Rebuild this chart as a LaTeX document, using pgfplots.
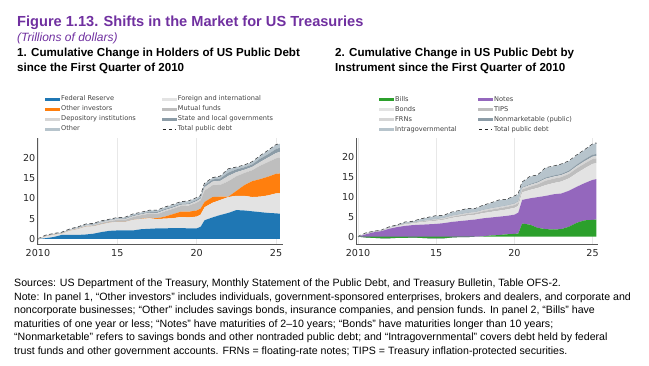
\documentclass[border=0pt]{standalone}
\usepackage{fontspec}
\setmainfont{Liberation Sans}
\newfontfamily\dejavu{DejaVu Sans}
\usepackage{pgfplots}
\usepackage{pgfplotstable}
\pgfplotsset{compat=1.18}

\definecolor{titlepurple}{HTML}{7030A0}
\definecolor{fedblue}{HTML}{1F77B4}
\definecolor{othorange}{HTML}{FF7F0E}
\definecolor{billgreen}{HTML}{2CA02C}
\definecolor{notepurple}{HTML}{9467BD}
\definecolor{lgrey}{HTML}{E3E3E3}
\definecolor{mgrey}{HTML}{BEBEBE}
\definecolor{dgrey}{HTML}{D6D6D6}
\definecolor{slate}{HTML}{8C9CA7}
\definecolor{lslate}{HTML}{B7C4CC}

% Panel 1: holders (cumulative change, trillions of dollars)
\pgfplotstableread{
t T F G O M D S X
2010.0 0 0 0 0 0 0 0 0
2010.5 0.9 0.2 0.45 0 0.1 0.05 0.05 0.05
2011.0 1.3 0.5 0.5 0 0.1 0.05 0.05 0.1
2011.5 1.6 1.0 0.3 0 0.1 0.05 0.05 0.1
2012.0 2.4 1.0 1.0 0 0.15 0.1 0.05 0.1
2012.5 2.9 1.0 1.4 0 0.2 0.1 0.1 0.1
2013.0 3.6 1.1 1.9 0 0.25 0.1 0.1 0.15
2013.5 3.8 1.3 1.8 0 0.3 0.1 0.1 0.2
2014.0 4.4 1.7 1.9 0 0.35 0.15 0.1 0.2
2014.5 4.8 2.0 2.0 0 0.4 0.15 0.1 0.15
2015.0 5.2 2.1 2.1 0 0.5 0.2 0.1 0.2
2015.5 5.3 2.1 2.1 0 0.5 0.2 0.15 0.25
2016.0 6.1 2.1 2.6 0 0.7 0.2 0.2 0.3
2016.5 6.5 2.4 2.5 0.05 0.9 0.2 0.2 0.25
2017.0 7.0 2.5 2.6 0.1 1.0 0.25 0.2 0.35
2017.5 7.0 2.6 2.3 0.2 1.0 0.25 0.25 0.4
2018.0 7.8 2.6 2.4 0.5 1.3 0.3 0.25 0.45
2018.5 8.4 2.7 2.4 1.0 1.3 0.3 0.25 0.45
2019.0 9.1 2.7 2.7 1.3 1.4 0.3 0.25 0.45
2019.5 9.3 2.6 2.7 1.4 1.5 0.3 0.25 0.55
2020.0 10.1 2.6 2.9 1.5 1.9 0.4 0.3 0.5
2020.25 10.6 3.0 3.0 1.5 2.0 0.4 0.3 0.4
2020.5 13.6 4.6 3.2 1.3 2.8 0.8 0.5 0.4
2021.0 15.0 5.3 3.6 1.4 2.9 0.9 0.5 0.4
2021.5 15.4 5.9 3.7 0.8 2.9 1.0 0.6 0.5
2022.0 17.2 6.4 3.9 0.1 3.8 1.3 0.8 0.9
2022.5 17.6 7.1 3.5 1.2 3.6 1.0 0.7 0.5
2023.0 18.1 7.0 3.6 2.6 3.0 0.8 0.6 0.5
2023.5 18.9 6.8 3.5 3.9 2.7 0.8 0.6 0.6
2024.0 20.4 6.6 3.8 4.3 3.3 0.9 0.8 0.7
2024.5 21.7 6.4 4.3 4.6 3.6 1.1 0.8 0.9
2025.0 23.1 6.3 4.9 4.8 3.8 1.3 1.0 1.0
2025.25 23.4 6.2 5.0 4.9 3.9 1.4 1.0 1.0
}\dataA

% Panel 2: instruments (cumulative change, trillions of dollars)
\pgfplotstableread{
t T B N Bd TI F NM I
2010.0 0 0 0 0 0 0 0 0
2010.5 0.9 -0.2 0.8 0.1 0.05 0 0.02 0.13
2011.0 1.3 -0.3 1.4 0.08 0.05 0 0.02 0.05
2011.5 1.6 -0.4 1.8 0.1 0.05 0 0.02 0.03
2012.0 2.4 -0.4 2.4 0.2 0.07 0 0.02 0.11
2012.5 2.9 -0.3 2.7 0.25 0.1 0 0.02 0.13
2013.0 3.6 -0.3 3.0 0.4 0.15 0 0.03 0.32
2013.5 3.8 -0.2 3.1 0.45 0.15 0 0.03 0.27
2014.0 4.4 -0.3 3.3 0.6 0.2 0.05 0.03 0.52
2014.5 4.8 -0.4 3.5 0.7 0.2 0.1 0.03 0.67
2015.0 5.2 -0.4 3.6 0.8 0.25 0.1 0.04 0.81
2015.5 5.3 -0.4 3.8 0.85 0.25 0.15 0.04 0.61
2016.0 6.1 -0.2 3.9 1.0 0.3 0.2 0.05 0.85
2016.5 6.5 -0.1 4.0 1.1 0.35 0.2 0.05 0.9
2017.0 7.0 -0.1 4.2 1.2 0.4 0.2 0.05 1.05
2017.5 7.0 0.0 4.3 1.2 0.4 0.2 0.05 0.85
2018.0 7.8 0.1 4.5 1.3 0.5 0.25 0.05 1.1
2018.5 8.4 0.3 4.5 1.4 0.55 0.3 0.06 1.29
2019.0 9.1 0.4 4.6 1.5 0.6 0.3 0.06 1.64
2019.5 9.3 0.6 4.6 1.6 0.65 0.3 0.06 1.49
2020.0 10.1 0.7 4.8 1.7 0.7 0.35 0.1 1.75
2020.25 10.6 0.8 5.2 1.7 0.7 0.35 0.1 1.75
2020.5 13.6 3.3 5.9 1.9 0.7 0.4 0.15 1.25
2021.0 15.0 3.0 6.6 2.1 0.8 0.45 0.2 1.85
2021.5 15.4 2.2 7.7 2.3 0.9 0.45 0.25 1.6
2022.0 17.2 1.9 8.3 2.7 1.1 0.5 0.3 2.4
2022.5 17.6 1.8 8.8 2.8 1.1 0.5 0.3 2.3
2023.0 18.1 1.9 8.9 3.0 1.1 0.5 0.3 2.4
2023.5 18.9 2.5 9.0 3.1 1.1 0.5 0.35 2.35
2024.0 20.4 3.5 9.0 3.4 1.2 0.55 0.4 2.35
2024.5 21.7 4.1 9.3 3.7 1.2 0.6 0.45 2.35
2025.0 23.1 4.2 10.0 4.0 1.2 0.6 0.5 2.6
2025.25 23.4 4.3 10.1 4.0 1.2 0.6 0.5 2.7
}\dataB

\pgfplotsset{
  legend image code/.code={\fill[#1] (0pt,-1.5pt) rectangle (15pt,1.5pt);},
  panel/.style={
    scale only axis, anchor=south west,
    stack plots=y,
    axis x line=bottom, axis y line=left,
    axis line style={-, draw=black!65, line width=0.5pt},
    xtick={2010,2015,2020,2025}, xticklabels={2010,15,20,25},
    ytick={0,5,10,15,20},
    major tick length=0pt,
    xmajorgrids, grid style={black!9, line width=0.4pt},
    tick label style={font=\dejavu\fontsize{9.6}{11}\selectfont, text=black!85},
    /pgf/number format/assume math mode=true,
    xticklabel style={yshift=-1.5pt},
    yticklabel style={inner xsep=1.5pt},
    legend columns=2,
    legend cell align=left,
    legend style={draw=none, fill=none, font=\dejavu\fontsize{6.6}{7.5}\selectfont,
      text=black!75, inner sep=0pt, anchor=north west,
      at={(axis description cs:0,1)},
      nodes={inner ysep=1.9pt, inner xsep=1.2pt, text height=4.8pt, text depth=1.4pt}},
    mark=none,
  },
  total/.style={stack plots=false, draw=black!85, line width=1.1pt,
    dash pattern=on 3.5pt off 2.5pt,
    legend image code/.code={\draw[black!85, line width=1.1pt, dash pattern=on 3.5pt off 2.5pt] (1pt,0pt) -- (14pt,0pt);}},
}

\begin{document}
\begin{tikzpicture}
\useasboundingbox (0,0) rectangle (649pt,-365pt);

\node[anchor=base west, inner sep=0pt, text=titlepurple, font=\bfseries\fontsize{14.6}{17}\selectfont] at (17pt,-26.7pt) {Figure 1.13. Shifts in the Market for US Treasuries};
\node[anchor=base west, inner sep=0pt, text=titlepurple, font=\itshape\fontsize{12}{14}\selectfont] at (17pt,-41.7pt) {(Trillions of dollars)};

\node[anchor=base west, inner sep=0pt, font=\bfseries\fontsize{11.6}{14}\selectfont] at (17pt,-56.7pt) {1. Cumulative Change in Holders of US Public Debt};
\node[anchor=base west, inner sep=0pt, font=\bfseries\fontsize{11.6}{14}\selectfont] at (17pt,-71pt) {since the First Quarter of 2010};
\node[anchor=base west, inner sep=0pt, font=\bfseries\fontsize{11.6}{14}\selectfont] at (335pt,-56.7pt) {2. Cumulative Change in US Public Debt by};
\node[anchor=base west, inner sep=0pt, font=\bfseries\fontsize{11.6}{14}\selectfont] at (335pt,-71pt) {Instrument since the First Quarter of 2010};

\begin{axis}[panel, at={(37pt,-244pt)}, width=246pt, height=106pt,
  xmin=2009.94, xmax=2025.44, ymin=-1.23, ymax=24.8,
  legend style={xshift=7.8pt, yshift=44pt, /tikz/every even column/.append style={column sep=24.5pt}}]
\addplot[fill=fedblue, draw=none] table[x=t, y=F] {\dataA} \closedcycle;
\addlegendentry{Federal Reserve}
\addplot[fill=lgrey, draw=none] table[x=t, y=G] {\dataA} \closedcycle;
\addlegendentry{Foreign and international}
\addplot[fill=othorange, draw=none] table[x=t, y=O] {\dataA} \closedcycle;
\addlegendentry{Other investors}
\addplot[fill=mgrey, draw=none] table[x=t, y=M] {\dataA} \closedcycle;
\addlegendentry{Mutual funds}
\addplot[fill=dgrey, draw=none] table[x=t, y=D] {\dataA} \closedcycle;
\addlegendentry{Depository institutions}
\addplot[fill=slate, draw=none] table[x=t, y=S] {\dataA} \closedcycle;
\addlegendentry{State and local governments}
\addplot[fill=lslate, draw=none] table[x=t, y=X] {\dataA} \closedcycle;
\addlegendentry{Other}
\addplot[total] table[x=t, y=T] {\dataA};
\addlegendentry{Total public debt}
\end{axis}

\begin{axis}[panel, at={(356pt,-244.3pt)}, width=242pt, height=106pt,
  xmin=2009.87, xmax=2025.35, ymin=-1.9, ymax=24.6,
  legend style={xshift=22.8pt, yshift=44pt, /tikz/every even column/.append style={column sep=20pt}}]
\addplot[fill=billgreen, draw=none] table[x=t, y=B] {\dataB} \closedcycle;
\addlegendentry{Bills}
\addplot[fill=notepurple, draw=none] table[x=t, y=N] {\dataB} \closedcycle;
\addlegendentry{Notes}
\addplot[fill=lgrey, draw=none] table[x=t, y=Bd] {\dataB} \closedcycle;
\addlegendentry{Bonds}
\addplot[fill=mgrey, draw=none] table[x=t, y=TI] {\dataB} \closedcycle;
\addlegendentry{TIPS}
\addplot[fill=dgrey, draw=none] table[x=t, y=F] {\dataB} \closedcycle;
\addlegendentry{FRNs}
\addplot[fill=slate, draw=none] table[x=t, y=NM] {\dataB} \closedcycle;
\addlegendentry{Nonmarketable (public)}
\addplot[fill=lslate, draw=none] table[x=t, y=I] {\dataB} \closedcycle;
\addlegendentry{Intragovernmental}
\addplot[total] table[x=t, y=T] {\dataB};
\addlegendentry{Total public debt}
\end{axis}

\begin{scope}[every node/.style={anchor=base west, inner sep=0pt, font=\fontsize{10.6}{12}\selectfont}]
\node at (14pt,-286.5pt) {Sources: US Department of the Treasury, Monthly Statement of the Public Debt, and Treasury Bulletin, Table OFS-2.};
\node at (14pt,-300pt) {Note: In panel 1, “Other investors” includes individuals, government-sponsored enterprises, brokers and dealers, and corporate and};
\node at (14pt,-313.6pt) {noncorporate businesses; “Other” includes savings bonds, insurance companies, and pension funds. In panel 2, “Bills” have};
\node at (14pt,-327.2pt) {maturities of one year or less; “Notes” have maturities of 2–10 years; “Bonds” have maturities longer than 10 years;};
\node at (14pt,-340.8pt) {“Nonmarketable” refers to savings bonds and other nontraded public debt; and “Intragovernmental” covers debt held by federal};
\node at (14pt,-354.4pt) {trust funds and other government accounts. FRNs = floating-rate notes; TIPS = Treasury inflation-protected securities.};
\end{scope}
\end{tikzpicture}
\end{document}
